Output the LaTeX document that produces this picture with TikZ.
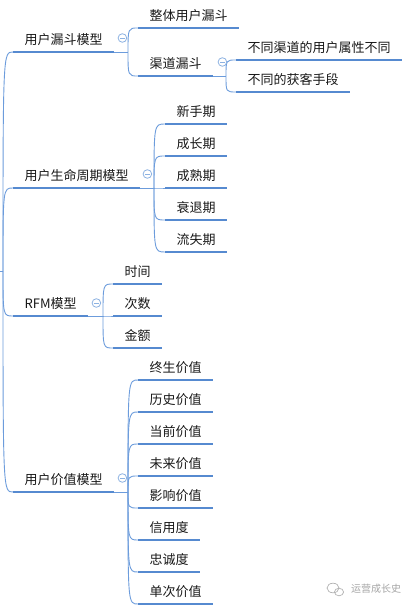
\documentclass[tikz,border=0pt]{standalone}
\usepackage{fontspec}
\newfontfamily\cjk{Noto Sans CJK SC}
\usetikzlibrary{calc}
\definecolor{ublue}{RGB}{86,138,208}
\definecolor{cblue}{RGB}{108,156,220}
\definecolor{kblue}{RGB}{140,178,226}
\definecolor{txt}{RGB}{25,25,25}
\tikzset{
  itm/.style={anchor=south west, inner xsep=11.5pt, inner ysep=7pt,
    text height=10pt, text depth=0pt, text=txt,
    font=\cjk\fontsize{13}{15}\selectfont},
  uline/.style={draw=ublue, line width=2.8pt, line cap=butt},
  conn/.style={draw=cblue, line width=0.9pt},
  collapse/.style={circle, draw=kblue, fill=white, line width=0.8pt,
    minimum size=8.6pt, inner sep=0pt,
    path picture={\draw[kblue, line width=0.8pt]
      ([xshift=-2.4pt]path picture bounding box.center) --
      ([xshift=2.4pt]path picture bounding box.center);}},
  wmtext/.style={font=\cjk\fontsize{10}{12}\selectfont, text=black!35, inner sep=0pt},
  wmicon/.style={draw=black!30, line width=0.7pt}
}
\newcommand\mmnode[4]{%
  \node[itm] (#1) at (#2,#3) {#4};
  \draw[uline] (#1.south west) -- (#1.south east);}
\newcommand\mmkid[2]{%
  \draw[conn] (#1) .. controls (#1 |- #2.south west) .. (#2.south west);}
\begin{document}
\begin{tikzpicture}[x=1pt,y=-1pt]
\useasboundingbox (0,0) rectangle (412,609);
\fill[white] (0,0) rectangle (412,609);

% level 1
\mmnode{La}{13}{52}{用户漏斗模型}
\mmnode{Lb}{13}{188}{用户生命周期模型}
\mmnode{Lc}{13}{316}{RFM模型}
\mmnode{Ld}{13}{492}{用户价值模型}

% level 2
\mmnode{a1}{138}{28}{整体用户漏斗}
\mmnode{a2}{138}{76}{渠道漏斗}
\mmnode{a21}{236}{60}{不同渠道的用户属性不同}
\mmnode{a22}{236}{92}{不同的获客手段}

\mmnode{b1}{165}{124}{新手期}
\mmnode{b2}{165}{156}{成长期}
\mmnode{b3}{165}{188}{成熟期}
\mmnode{b4}{165}{220}{衰退期}
\mmnode{b5}{165}{252}{流失期}

\mmnode{c1}{113}{284}{时间}
\mmnode{c2}{113}{316}{次数}
\mmnode{c3}{113}{348}{金额}

\mmnode{d1}{138}{380}{终生价值}
\mmnode{d2}{138}{412}{历史价值}
\mmnode{d3}{138}{444}{当前价值}
\mmnode{d4}{138}{476}{未来价值}
\mmnode{d5}{138}{508}{影响价值}
\mmnode{d6}{138}{540}{信用度}
\mmnode{d7}{138}{572}{忠诚度}
\mmnode{d8}{138}{604}{单次价值}

% root connectors
\coordinate (rin) at (0,271);
\coordinate (root) at (3,271);
\draw[conn] (rin) -- (root);
\mmkid{root}{La}
\mmkid{root}{Lb}
\mmkid{root}{Lc}
\mmkid{root}{Ld}

% split points
\coordinate (sa) at ($(a1.south west |- La.south east)+(-10,0)$);
\draw[conn] (La.south east) -- (sa);
\mmkid{sa}{a1}
\mmkid{sa}{a2}

\coordinate (sa2) at ($(a21.south west |- a2.south east)+(-10,0)$);
\draw[conn] (a2.south east) -- (sa2);
\mmkid{sa2}{a21}
\mmkid{sa2}{a22}

\coordinate (sb) at ($(b1.south west |- Lb.south east)+(-11,0)$);
\draw[conn] (Lb.south east) -- (sb);
\foreach \k in {b1,b2,b3,b4,b5}{\mmkid{sb}{\k}}

\coordinate (sc) at ($(c1.south west |- Lc.south east)+(-10,0)$);
\draw[conn] (Lc.south east) -- (sc);
\foreach \k in {c1,c2,c3}{\mmkid{sc}{\k}}

\coordinate (sd) at ($(d1.south west |- Ld.south east)+(-10,0)$);
\draw[conn] (Ld.south east) -- (sd);
\foreach \k in {d1,d2,d3,d4,d5,d6,d7,d8}{\mmkid{sd}{\k}}

% collapse buttons
\node[collapse] (ka) at ($(La.south east)+(8,-14)$) {};
\node[collapse] (ka2) at ($(a2.south east)+(9,-14)$) {};
\node[collapse] (kb) at ($(Lb.south east)+(7,-14)$) {};
\node[collapse] (kc) at ($(Lc.south east)+(8,-13)$) {};
\node[collapse] (kd) at ($(Ld.south east)+(8,-14)$) {};

% watermark
\draw[wmicon] (333,588) ellipse [x radius=6pt, y radius=4.8pt];
\draw[wmicon] (339,592) ellipse [x radius=4.6pt, y radius=3.8pt];
\node[wmtext] (wm) at (376,589) {运营成长史};
\end{tikzpicture}
\end{document}
